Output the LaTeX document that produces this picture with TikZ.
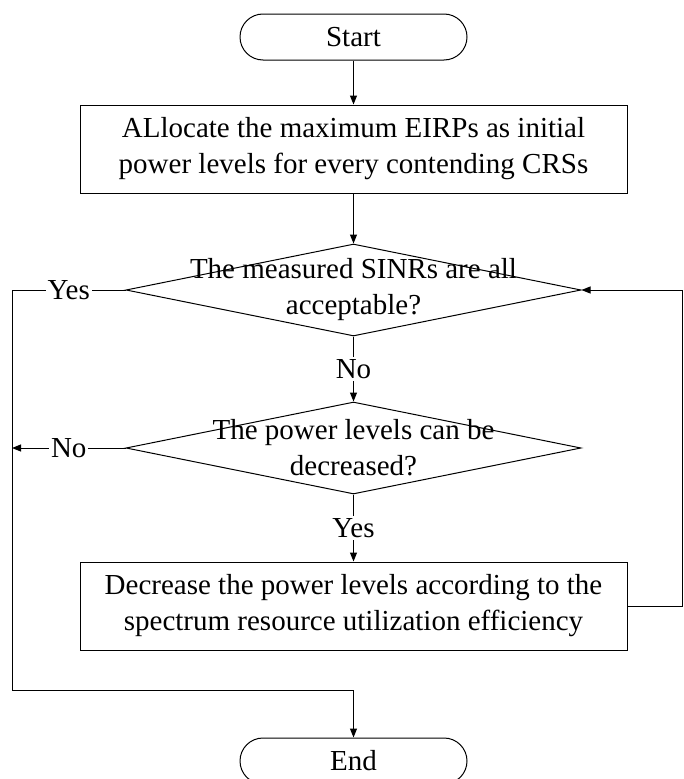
\documentclass[tikz,border=0pt]{standalone}
\usepackage{fontspec}
\setmainfont{Liberation Serif}
\usetikzlibrary{shapes.geometric, arrows.meta, positioning, calc}

\begin{document}
\begin{tikzpicture}[
  x=1pt, y=-1pt, font=\fontsize{29}{36}\selectfont, line width=1pt,
  >={Triangle[length=9pt,width=7pt]},
  term/.style={rectangle, rounded corners=23pt, draw, minimum width=227pt,
               minimum height=46pt, inner sep=0pt},
  box/.style={rectangle, draw, align=center, minimum width=547pt,
              minimum height=88pt, inner sep=0pt},
  dec/.style={diamond, draw, minimum width=455pt, minimum height=92pt, inner sep=0pt},
  dectext/.style={align=center, inner sep=0pt},
  lbl/.style={fill=white, inner sep=2pt}]
  \useasboundingbox (0,0) rectangle (683,779);
  \node[term] (start) at (353.5,37) {Start};
  \node[box, below=44pt of start] (alloc) {ALlocate the maximum EIRPs as initial\\power levels for every contending CRSs};
  \node[dec, below=50pt of alloc] (sinr) {};
  \node[dectext] (sinrtext) at (sinr) {The measured SINRs are all\\acceptable?};
  \node[dec, below=65pt of sinr] (canred) {};
  \node[dectext] (canredtext) at (canred) {The power levels can be\\decreased?};
  \node[box, below=67pt of canred] (decr) {Decrease the power levels according to the\\spectrum resource utilization efficiency};
  \node[term, below=87pt of decr] (end) {End};
  \coordinate (lx) at (12,690);
  \coordinate (rx) at (682,0);
  \draw[->] (start) -- (alloc);
  \draw[->] (alloc) -- (sinr);
  \draw[->] (sinr) -- node[lbl]{No} (canred);
  \draw[->] (canred) -- node[lbl]{Yes} (decr);
  \draw[->] (sinr.west) -- node[lbl]{Yes} (sinr.west -| lx) -- (lx) -| (end);
  \draw[->] (canred.west) -- node[lbl]{No} (canred.west -| lx);
  \draw[->] (decr.east) -- (decr.east -| rx) |- (sinr.east);
\end{tikzpicture}
\end{document}
